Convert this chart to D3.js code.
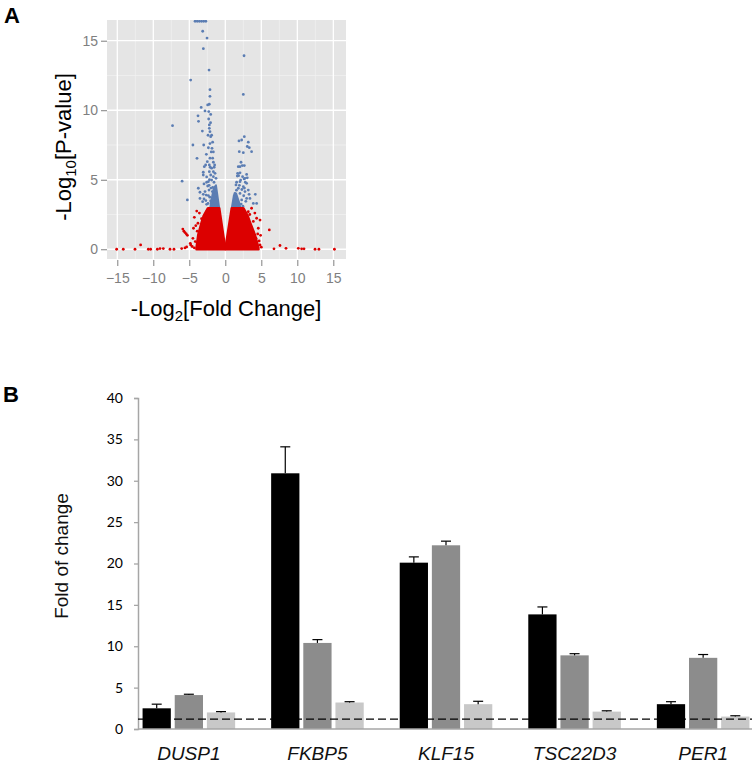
<!DOCTYPE html>
<html>
<head>
<meta charset="utf-8">
<script src="https://cdn.jsdelivr.net/npm/d3@7"></script>
<style>
  body { margin: 0; background: #fff; }
  svg { display: block; }
</style>
</head>
<body>
<svg id="fig" width="756" height="764"></svg>
<script>
// ---- panel A : volcano plot ----
// significant genes (blue)
var blueFC = [-4.2, -3.9, -3.6, -3.3, -3.0, -2.7, -3.14, -2.54, -3.05, -2.26, -4.81, -2.13, -2.13, -2.22,
  -2.45, -3.35, -2.82, -3.79, -3.72, -7.33, -3.19, -2.31, -2.03, -2.22, -2.22, -2.13, -2.03, -1.9,
  -2.4, -4.5, -3.0, -1.76, -2.13, -1.85, -2.35, -1.66, -1.95, -2.63, -3.93, -2.13, -1.76, -1.66,
  -2.5, -1.48, -2.22, -2.73, -2.92, -1.9, -2.1, -1.55, -1.66, -2.22, -3.06, -1.43, -2.03, -3.06,
  -2.59, -1.66, -1.29, -1.9, -2.59, -6.0, -2.36, -1.57, -2.96, -3.75, -2.27, -2.82, -1.8, -3.52,
  -3.06, -1.62, -2.36, -3.52, -2.96, -5.27, -2.04, -1.43, -3.15, -2.59, -1.29, -1.9, -2.05, -2.3,
  -2.45, -2.25, -1.75, -1.45, -2.65, -2.15, -1.7, -2.4, -1.95, -1.5, -2.7, -2.2, -2.0, -1.35,
  2.6, 2.5, 2.64, 2.27, 1.9, 3.19, 3.05, 3.33, 3.65, 1.94, 2.5, 2.18, 2.36, 2.04, 1.8, 2.64, 1.71,
  2.04, 1.85, 2.4, 2.96, 3.05, 2.6, 2.04, 1.57, 2.78, 1.67, 2.13, 2.73, 2.96, 2.5, 1.81, 1.48,
  1.34, 2.04, 2.73, 3.19, 4.17, 4.35, 3.89, 1.67, 2.27, 2.96, 1.34, 3.42,
  2.3, 2.55, 1.55, 2.85, 2.2, 1.95, 2.45, 3.3, 1.25, 2.65];
var blueP = [16.4, 16.4, 16.4, 16.4, 16.4, 16.4, 15.68, 15.19, 14.43, 12.89, 12.17, 11.48, 11.0, 10.43,
  10.38, 10.2, 9.95, 9.6, 9.2, 8.89, 8.5, 9.37, 9.7, 8.94, 8.7, 8.46, 8.1, 8.2,
  8.2, 7.5, 7.5, 7.7, 7.6, 7.26, 7.3, 7.0, 7.0, 6.83, 6.54, 6.55, 6.55, 6.26,
  6.3, 6.06, 6.06, 6.06, 5.94, 5.83, 5.9, 5.9, 5.58, 5.58, 5.54, 5.46, 5.34, 5.34,
  5.2, 5.22, 5.1, 4.98, 4.82, 4.9, 4.86, 4.82, 4.7, 4.39, 4.26, 4.15, 4.15, 4.1,
  3.95, 3.9, 3.86, 3.66, 3.62, 3.55, 3.47, 3.42, 3.42, 3.23, 3.18, 3.07, 9.1, 9.9,
  4.55, 4.6, 4.45, 4.2, 3.9, 3.75, 3.6, 3.3, 3.35, 3.8, 3.5, 5.0, 4.4, 3.9,
  13.92, 11.14, 8.1, 7.86, 7.79, 7.7, 7.39, 7.31, 7.02, 7.02, 6.95, 6.26, 6.02, 5.94, 5.94, 6.02, 5.46,
  5.5, 5.29, 5.22, 5.38, 5.14, 5.06, 4.86, 4.82, 4.82, 5.27, 4.98, 5.1, 4.74, 4.5, 4.39, 4.63,
  4.02, 4.02, 4.15, 4.26, 3.95, 3.3, 3.3, 3.42, 3.55, 3.66, 3.18, 3.66,
  4.3, 3.85, 4.25, 3.45, 3.25, 4.6, 3.1, 3.95, 3.5, 4.4];

// non-significant genes (red) lying outside the dense core
var redFC = [-15.09, -14.17, -12.54, -11.76, -10.69, -10.37, -9.44, -9.07, -8.61, -7.68, -7.13, -6.06,
  -5.6, -5.37, -4.86, -5.9, -5.75, -5.6, -5.42, -5.27, -4.81, -4.5, -4.42, -4.17, -3.97, -3.8,
  -4.3, -3.6, -4.6, -4.3, -3.3, -3.9, -4.1,
  6.11, 4.82, 6.76, 7.59, 8.43, 10.14, 10.6, 10.93, 12.46, 13.0, 15.15, 4.35, 4.58, 4.26, 4.82,
  3.89, 3.19, 3.65, 4.7, 4.5, 4.1, 5.0, 3.4, 4.9];
var redP = [0, 0, 0, 0.31, 0, 0, 0, 0.05, 0.05, 0, 0, 0.05,
  0.1, 0.17, 0.43, 1.45, 1.3, 1.2, 1.1, 1.0, 0.31, 0.79, 1.51, 0.55, 2.75, 1.87,
  2.3, 2.6, 0.2, 0.1, 2.2, 1.3, 1.7,
  1.39, 2.1, 0.03, 0.27, 0.07, 0.07, 0.03, 0.03, 0, 0, 0, 2.23, 1.51, 0.79, 0.31,
  2.0, 2.7, 2.95, 0.6, 1.1, 2.6, 0.15, 2.5, 1.0];

// outlines of the solid masses of overlapping points
var redCoreLeft = [[-0.85, 2.95], [-0.05, 0.15], [-0.05, 0], [-4.0, 0], [-3.97, 0.19], [-3.75, 1.03],
  [-3.3, 1.9], [-3.0, 2.4], [-2.4, 2.95]];
var redCoreRight = [[0.05, 0], [0.05, 0.15], [0.9, 2.95], [2.5, 2.95], [3.1, 2.4], [3.45, 1.9],
  [4.1, 1.03], [4.55, 0.19], [4.6, 0]];
var blueCoreLeft = [[-0.85, 2.95], [-1.3, 4.6], [-1.6, 4.4], [-1.9, 3.6], [-2.1, 2.95]];
var blueCoreRight = [[0.9, 2.95], [1.2, 3.9], [1.5, 4.0], [1.9, 3.4], [2.1, 2.95]];

var volcanoXTicks = [-15, -10, -5, 0, 5, 10, 15];
var volcanoYTicks = [0, 5, 10, 15];

// ---- panel B : qPCR bars ----
var genes = ['DUSP1', 'FKBP5', 'KLF15', 'TSC22D3', 'PER1'];
var series1 = [2.5, 30.9, 20.1, 13.85, 3.0];
var series1Err = [0.5, 3.2, 0.7, 0.9, 0.3];
var series2 = [4.1, 10.4, 22.2, 8.9, 8.6];
var series2Err = [0.1, 0.4, 0.5, 0.2, 0.4];
var series3 = [2.0, 3.2, 3.0, 2.1, 1.5];
var series3Err = [0.1, 0.1, 0.35, 0.1, 0.1];
var baseline = 1.2;
var foldTicks = [0, 5, 10, 15, 20, 25, 30, 35, 40];

var svg = d3.select('#fig');

// panel letters
svg.append('text').attr('x', 4).attr('y', 23).text('A')
    .style('font', 'bold 22px "Liberation Sans", Arial, sans-serif');
svg.append('text').attr('x', 3).attr('y', 402).text('B')
    .style('font', 'bold 22px "Liberation Sans", Arial, sans-serif');

// ===== A =====
var xA = d3.scaleLinear().domain([-16.43, 16.76]).range([107, 346]);
var yA = d3.scaleLinear().domain([-0.70, 16.49]).range([259, 20]);

var gA = svg.append('g');
gA.append('rect')
    .attr('x', xA.range()[0]).attr('y', yA.range()[1])
    .attr('width', xA.range()[1] - xA.range()[0])
    .attr('height', yA.range()[0] - yA.range()[1])
    .attr('fill', '#e5e5e5');

// minor grid halfway between the majors
var minorX = volcanoXTicks.slice(0, -1).map(function(v, i) { return (v + volcanoXTicks[i + 1]) / 2; });
var minorY = [2.5, 7.5, 12.5];
gA.selectAll('.minx').data(minorX).enter().append('line')
    .attr('x1', xA).attr('x2', xA).attr('y1', yA.range()[0]).attr('y2', yA.range()[1])
    .attr('stroke', '#f2f2f2').attr('stroke-width', 0.7);
gA.selectAll('.miny').data(minorY).enter().append('line')
    .attr('y1', yA).attr('y2', yA).attr('x1', xA.range()[0]).attr('x2', xA.range()[1])
    .attr('stroke', '#f2f2f2').attr('stroke-width', 0.7);
gA.selectAll('.majx').data(volcanoXTicks).enter().append('line')
    .attr('x1', xA).attr('x2', xA).attr('y1', yA.range()[0]).attr('y2', yA.range()[1])
    .attr('stroke', '#fff').attr('stroke-width', 1.3);
gA.selectAll('.majy').data(volcanoYTicks).enter().append('line')
    .attr('y1', yA).attr('y2', yA).attr('x1', xA.range()[0]).attr('x2', xA.range()[1])
    .attr('stroke', '#fff').attr('stroke-width', 1.3);

svg.append('clipPath').attr('id', 'clipA').append('rect')
    .attr('x', 107).attr('y', 20).attr('width', 239).attr('height', 239);
var dots = gA.append('g').attr('clip-path', 'url(#clipA)');

var core = d3.line().x(function(d) { return xA(d[0]); }).y(function(d) { return yA(d[1]); });
var redCol = '#dc0000', blueCol = '#5b7db3';

[blueCoreLeft, blueCoreRight].forEach(function(c) {
    dots.append('path').attr('d', core(c) + 'Z')
        .attr('fill', blueCol).attr('stroke', blueCol).attr('stroke-width', 2).attr('stroke-linejoin', 'round');
});
dots.selectAll('.bp').data(blueFC).enter().append('circle')
    .attr('cx', function(d) { return xA(d); })
    .attr('cy', function(d, i) { return yA(blueP[i]); })
    .attr('r', 1.4).attr('fill', blueCol);

[redCoreLeft, redCoreRight].forEach(function(c) {
    dots.append('path').attr('d', core(c) + 'Z')
        .attr('fill', redCol).attr('stroke', redCol).attr('stroke-width', 2.6).attr('stroke-linejoin', 'round');
});
dots.selectAll('.rp').data(redFC).enter().append('circle')
    .attr('cx', function(d) { return xA(d); })
    .attr('cy', function(d, i) { return yA(redP[i]); })
    .attr('r', 1.4).attr('fill', redCol);

// axes
var axA = gA.append('g').attr('transform', 'translate(0,260)')
    .call(d3.axisBottom(xA).tickValues(volcanoXTicks).tickSize(6).tickPadding(7));
var ayA = gA.append('g').attr('transform', 'translate(107,0)')
    .call(d3.axisLeft(yA).tickValues(volcanoYTicks).tickSize(6).tickPadding(3));
[axA, ayA].forEach(function(a) {
    a.select('.domain').remove();
    a.selectAll('line').attr('stroke', '#7f7f7f');
    a.selectAll('text').attr('fill', '#7f7f7f')
        .style('font', '14px "Liberation Sans", Arial, sans-serif');
});

var titleFont = '22px "Liberation Sans", Arial, sans-serif';
var xt = gA.append('text').attr('x', 226).attr('y', 316).attr('text-anchor', 'middle').style('font', titleFont);
xt.append('tspan').text('-Log');
xt.append('tspan').attr('dy', 5).style('font-size', '15px').text('2');
xt.append('tspan').attr('dy', -5).text('[Fold Change]');

var yt = gA.append('text').attr('transform', 'translate(71,147) rotate(-90)')
    .attr('text-anchor', 'middle').style('font', titleFont);
yt.append('tspan').text('-Log');
yt.append('tspan').attr('dy', 5).style('font-size', '15px').text('10');
yt.append('tspan').attr('dy', -5).text('[P-value]');

// ===== B =====
var yB = d3.scaleLinear().domain([0, 40]).range([729, 398]);
var xB = d3.scaleBand().domain(genes).range([140, 752]).paddingInner(0.28).paddingOuter(0.02);
var xSub = d3.scaleBand().domain([0, 1, 2]).range([0, xB.bandwidth()]).paddingInner(0.121);

var seriesVals = [series1, series2, series3];
var seriesErr = [series1Err, series2Err, series3Err];
var seriesCol = ['#000000', '#8c8c8c', '#c8c8c8'];

var gB = svg.append('g');

seriesVals.forEach(function(vals, s) {
    var g = gB.append('g');
    g.selectAll('rect').data(vals).enter().append('rect')
        .attr('x', function(d, i) { return xB(genes[i]) + xSub(s); })
        .attr('y', function(d) { return yB(d); })
        .attr('width', xSub.bandwidth())
        .attr('height', function(d) { return yB(0) - yB(d); })
        .attr('fill', seriesCol[s]);
    var cx = function(d, i) { return xB(genes[i]) + xSub(s) + xSub.bandwidth() / 2; };
    g.selectAll('.err').data(vals).enter().append('line')
        .attr('x1', cx).attr('x2', cx)
        .attr('y1', function(d) { return yB(d); })
        .attr('y2', function(d, i) { return yB(d + seriesErr[s][i]); })
        .attr('stroke', '#000').attr('stroke-width', 1.2);
    g.selectAll('.cap').data(vals).enter().append('line')
        .attr('x1', function(d, i) { return cx(d, i) - 5; })
        .attr('x2', function(d, i) { return cx(d, i) + 5; })
        .attr('y1', function(d, i) { return yB(d + seriesErr[s][i]); })
        .attr('y2', function(d, i) { return yB(d + seriesErr[s][i]); })
        .attr('stroke', '#000').attr('stroke-width', 1.2);
});

// axes
var ayB = gB.append('g').attr('transform', 'translate(138,0)')
    .call(d3.axisLeft(yB).tickValues(foldTicks).tickSize(4).tickPadding(11));
ayB.select('.domain').attr('stroke', '#a6a6a6').attr('stroke-width', 1.5);
ayB.selectAll('line').attr('stroke', '#a6a6a6').attr('stroke-width', 1.3);
ayB.selectAll('text').attr('fill', '#000').style('font', '14px Lato, "Open Sans", sans-serif');

gB.append('line').attr('x1', 138).attr('x2', 752).attr('y1', yB(0)).attr('y2', yB(0))
    .attr('stroke', '#a6a6a6').attr('stroke-width', 1.5);

// reference level
gB.append('line').attr('x1', 138).attr('x2', 752).attr('y1', yB(baseline)).attr('y2', yB(baseline))
    .attr('stroke', '#000').attr('stroke-width', 1.3).attr('stroke-dasharray', '8,4');

gB.selectAll('.gene').data(genes).enter().append('text')
    .attr('x', function(d) { return xB(d) + xB.bandwidth() / 2; })
    .attr('y', 760).attr('text-anchor', 'middle')
    .style('font', 'italic 19px "Liberation Sans", Arial, sans-serif').attr('fill', '#111')
    .text(function(d) { return d; });

gB.append('text').attr('transform', 'translate(68,556) rotate(-90)')
    .attr('text-anchor', 'middle')
    .style('font', '19px "Liberation Sans", Arial, sans-serif').attr('fill', '#111')
    .text('Fold of change');
</script>
</body>
</html>
